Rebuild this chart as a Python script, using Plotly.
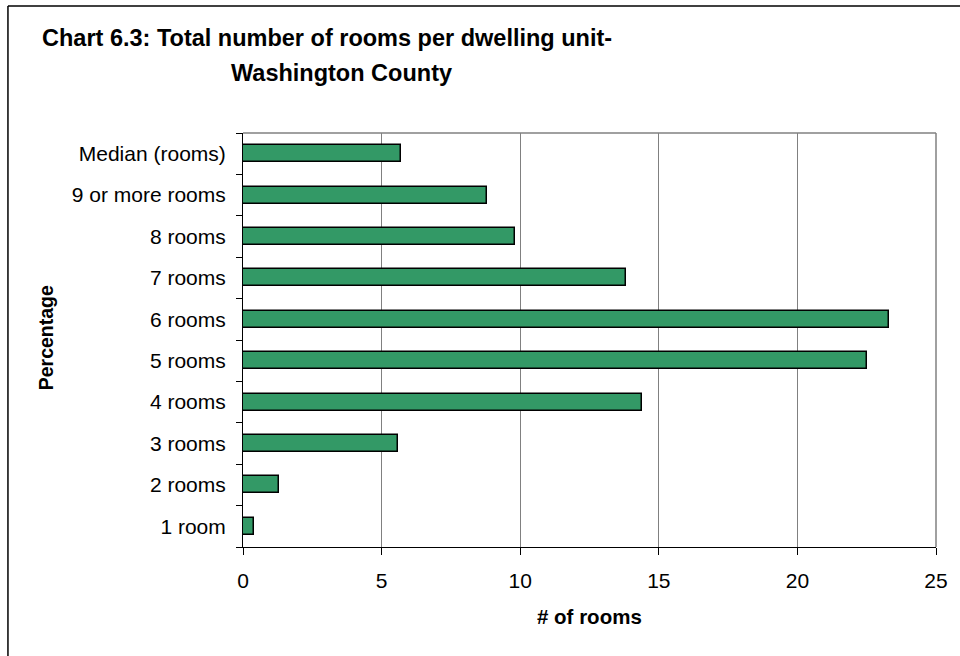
import plotly.graph_objects as go

categories = ["1 room", "2 rooms", "3 rooms", "4 rooms", "5 rooms", "6 rooms",
              "7 rooms", "8 rooms", "9 or more rooms", "Median (rooms)"]
values = [0.4, 1.3, 5.6, 14.4, 22.5, 23.3, 13.8, 9.8, 8.8, 5.7]
x_ticks = [0, 5, 10, 15, 20, 25]

W, H = 960, 656
L, R, T, B = 242.5, 938.3, 132.7, 547.3

def px(X):
    return (X - L) / (R - L)

def py(Y):
    return (B - Y) / (B - T)

FONT = "Arial, Liberation Sans, sans-serif"

fig = go.Figure(go.Bar(
    y=categories, x=values, orientation="h",
    width=0.41,
    marker=dict(color="#339966", line=dict(color="black", width=1.5)),
))

fig.update_layout(
    width=W, height=H,
    margin=dict(l=L, r=W - R, t=T, b=H - B, pad=0),
    paper_bgcolor="white", plot_bgcolor="white",
    showlegend=False,
    font=dict(family=FONT, size=21, color="black"),
    bargap=0,
)

fig.update_xaxes(
    range=[0, 25], tickvals=x_ticks, ticktext=[str(v) for v in x_ticks],
    showgrid=True, gridcolor="#808080", gridwidth=1,
    showline=True, linecolor="black", linewidth=1,
    ticks="outside", ticklen=7, tickcolor="black",
    ticklabelstandoff=8,
    zeroline=False,
    tickfont=dict(size=21),
)
fig.update_yaxes(
    type="category", categoryorder="array", categoryarray=categories,
    showgrid=False,
    showline=True, linecolor="black", linewidth=1,
    ticks="outside", ticklen=6, tickcolor="black", tickson="boundaries",
    ticklabelstandoff=12,
    tickfont=dict(size=21),
)

shapes = [
    # plot area border (grey top and right)
    dict(type="line", xref="paper", yref="paper", x0=0, x1=1, y0=1, y1=1,
         line=dict(color="#808080", width=1.5)),
    dict(type="line", xref="paper", yref="paper", x0=1, x1=1, y0=0, y1=1,
         line=dict(color="#808080", width=1.5)),
    # outer chart frame (only left and top edges visible)
    dict(type="line", xref="paper", yref="paper",
         x0=px(6.5), x1=px(6.5), y0=py(H + 60), y1=py(5.5),
         line=dict(color="black", width=1.5), layer="below"),
    dict(type="line", xref="paper", yref="paper",
         x0=px(6.5), x1=px(W + 60), y0=py(5.5), y1=py(5.5),
         line=dict(color="black", width=1.5), layer="below"),
]
fig.update_layout(shapes=shapes)

annotations = [
    dict(text="<b>Chart 6.3: Total number of rooms per dwelling unit-</b>",
         xref="paper", yref="paper", x=px(39), y=py(38), xanchor="left", yanchor="middle",
         showarrow=False, font=dict(size=23.5, family=FONT)),
    dict(text="<b>Washington County</b>",
         xref="paper", yref="paper", x=px(228), y=py(73), xanchor="left", yanchor="middle",
         showarrow=False, font=dict(size=23.5, family=FONT)),
    dict(text="<b># of rooms</b>",
         xref="paper", yref="paper", x=px(590), y=py(617), xanchor="center", yanchor="middle",
         showarrow=False, font=dict(size=20.5, family=FONT)),
    dict(text="<b>Percentage</b>", textangle=-90,
         xref="paper", yref="paper", x=px(45), y=py(338), xanchor="center", yanchor="middle",
         showarrow=False, font=dict(size=19.5, family=FONT)),
]
fig.update_layout(annotations=annotations)

fig.write_html(
    "out.html",
    config={"displayModeBar": False},
    post_script="document.body.style.margin='0';document.body.style.overflow='hidden';",
)
